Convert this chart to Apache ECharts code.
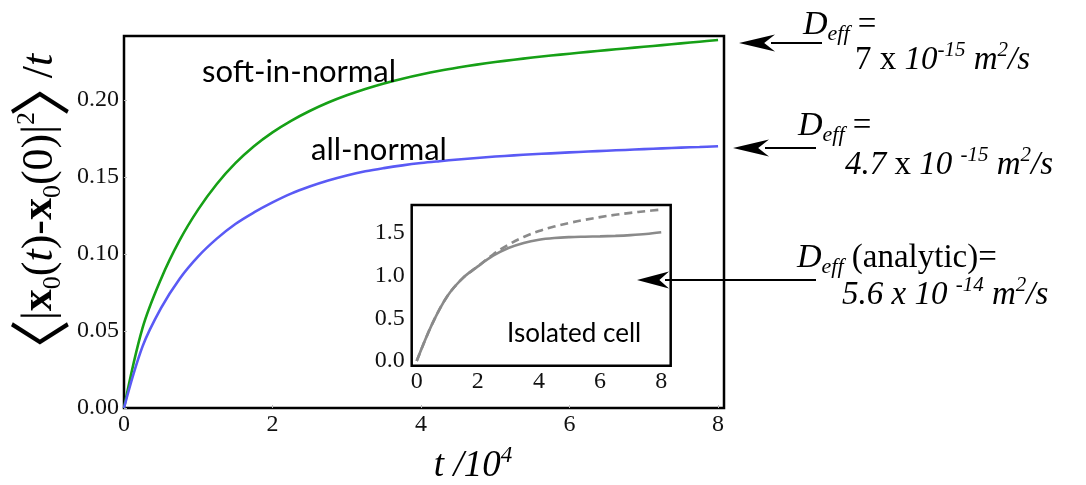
<!DOCTYPE html>
<html><head><meta charset="utf-8">
<script src="https://cdn.jsdelivr.net/npm/echarts@6/dist/echarts.min.js"></script>
<style>html,body{margin:0;padding:0;background:#fff}#c{width:1086px;height:485px}</style>
</head><body><div id="c"></div>
<script>
// ---- data ----
const tMain = [0, 0.25, 0.5, 0.75, 1, 1.25, 1.5, 1.75, 2, 2.25, 2.5, 2.75, 3, 3.25, 3.5, 3.75, 4, 4.25, 4.5, 4.75, 5, 5.25, 5.5, 5.75, 6, 6.25, 6.5, 6.75, 7, 7.25, 7.5, 7.75, 8];
const softInNormal = [0, 0.052, 0.084, 0.109, 0.129, 0.1455, 0.159, 0.170, 0.179, 0.1865, 0.1929, 0.1984, 0.2031, 0.2072, 0.2108, 0.2139, 0.2166, 0.2190, 0.2211, 0.2230, 0.2247, 0.2262, 0.2276, 0.2289, 0.2301, 0.2313, 0.2324, 0.2335, 0.2346, 0.2357, 0.2368, 0.2379, 0.2390];
const allNormal = [0, 0.040, 0.065, 0.084, 0.0985, 0.110, 0.1195, 0.127, 0.1335, 0.1392, 0.1438, 0.1477, 0.1510, 0.1537, 0.1558, 0.1576, 0.1591, 0.1603, 0.1614, 0.1624, 0.1633, 0.1641, 0.1648, 0.1654, 0.1660, 0.1666, 0.1671, 0.1676, 0.1681, 0.1686, 0.1691, 0.1695, 0.1700];
const xTicksMain = [0, 2, 4, 6, 8];
const yTicksMain = ['0.00', '0.05', '0.10', '0.15', '0.20'];
const tInset = [0, 0.5, 1, 1.5, 2, 2.5, 3, 3.5, 4, 4.5, 5, 5.5, 6, 6.5, 7, 7.5, 8];
const isolatedSolid = [0, 0.43, 0.76, 0.97, 1.11, 1.235, 1.325, 1.385, 1.423, 1.443, 1.453, 1.458, 1.462, 1.468, 1.477, 1.490, 1.51];
const isolatedDashed = [0, 0.43, 0.76, 0.97, 1.11, 1.25, 1.365, 1.455, 1.525, 1.578, 1.620, 1.656, 1.688, 1.715, 1.738, 1.758, 1.776];
const xTicksInset = [0, 2, 4, 6, 8];
const yTicksInset = ['0.0', '0.5', '1.0', '1.5'];
const seriesNames = ['soft-in-normal', 'all-normal', 'Isolated cell'];

const pairs = (xs, ys) => xs.map((x, i) => [x, ys[i]]);
const SERIF = '"Liberation Serif", "DejaVu Serif", serif';
const SANS = 'Lato, "Open Sans", sans-serif';
const CJK = '"Noto Sans CJK JP", "DejaVu Sans", sans-serif';

const chart = echarts.init(document.getElementById('c'), null, {renderer: 'canvas'});

function arrow(x1, x2, y, headLen, headHalf) {
  return [
    {type: 'line', shape: {x1: x1 + headLen - 4, y1: y, x2: x2, y2: y}, style: {stroke: '#000', lineWidth: 2}, z: 100},
    {type: 'polygon', shape: {points: [[x1, y], [x1 + headLen, y - headHalf], [x1 + headLen * 0.7, y], [x1 + headLen, y + headHalf]]}, style: {fill: '#000'}, z: 100}
  ];
}

const richD = {
  D: {fontFamily: SERIF, fontStyle: 'italic', fontSize: 34, lineHeight: 40, verticalAlign: 'middle', fill: '#000'},
  eff: {fontFamily: SERIF, fontStyle: 'italic', fontSize: 22, lineHeight: 18, verticalAlign: 'bottom', fill: '#000'},
  r: {fontFamily: SERIF, fontSize: 33, lineHeight: 40, verticalAlign: 'middle', fill: '#000'},
  i: {fontFamily: SERIF, fontStyle: 'italic', fontSize: 33, lineHeight: 40, verticalAlign: 'middle', fill: '#000'},
  sup: {fontFamily: SERIF, fontStyle: 'italic', fontSize: 21, lineHeight: 20, verticalAlign: 'top', fill: '#000'}
};

function rtext(x, y, text, rich, align, rotation) {
  return {type: 'text', x: x, y: y, rotation: rotation || 0, z: 100,
    style: {text: text, rich: rich, align: align || 'left', verticalAlign: 'middle', textAlign: align || 'left', textVerticalAlign: 'middle'}};
}
function ptext(x, y, text, font, rotation) {
  return {type: 'text', x: x, y: y, rotation: rotation || 0, z: 100,
    style: {text: text, font: font, fill: '#000', align: 'center', verticalAlign: 'middle', textAlign: 'center', textVerticalAlign: 'middle'}};
}
function label(x, y, text, size) {
  return {type: 'text', x: x, y: y, z: 100, style: {text: text, font: size + 'px ' + SANS, fill: '#000', align: 'left', verticalAlign: 'middle', textAlign: 'left', textVerticalAlign: 'middle'}};
}

const tickFont = {fontFamily: SERIF, fontSize: 24, color: '#111'};
const R90 = Math.PI / 2;

const option = {
  animation: false,
  backgroundColor: '#fff',
  grid: [
    {left: 124, top: 36, width: 600, height: 372, show: true, borderColor: '#000', borderWidth: 2.5, backgroundColor: 'transparent', outerBoundsMode: 'none', containLabel: false},
    {left: 416.7, top: 205, width: 254, height: 156, show: false, outerBoundsMode: 'none', containLabel: false}
  ],
  xAxis: [
    {gridIndex: 0, type: 'value', min: 0, max: 8.08, interval: 2,
      axisLine: {show: false}, splitLine: {show: false},
      axisTick: {show: true, inside: true, length: 3, lineStyle: {color: '#bbb'}},
      axisLabel: Object.assign({showMaxLabel: false, margin: 5,
        formatter: v => xTicksMain.includes(v) ? String(v) : ''}, tickFont)},
    {gridIndex: 1, type: 'value', min: 0, max: 8.31, interval: 2,
      axisLine: {show: false}, splitLine: {show: false}, axisTick: {show: false},
      axisLabel: Object.assign({showMaxLabel: false, margin: 9,
        formatter: v => xTicksInset.includes(v) ? String(v) : ''}, tickFont)}
  ],
  yAxis: [
    {gridIndex: 0, type: 'value', min: 0, max: 0.2416, interval: 0.05,
      axisLine: {show: false}, splitLine: {show: false},
      axisTick: {show: true, inside: true, length: 3, lineStyle: {color: '#bbb'}},
      axisLabel: Object.assign({showMaxLabel: false, margin: 5,
        formatter: (v, i) => yTicksMain[i] !== undefined ? yTicksMain[i] : ''}, tickFont)},
    {gridIndex: 1, type: 'value', min: 0, max: 1.83, interval: 0.5,
      axisLine: {show: false}, splitLine: {show: false}, axisTick: {show: false},
      axisLabel: Object.assign({showMaxLabel: false, margin: 12,
        formatter: (v, i) => yTicksInset[i] !== undefined ? yTicksInset[i] : ''}, tickFont)}
  ],
  series: [
    {name: seriesNames[0], type: 'line', xAxisIndex: 0, yAxisIndex: 0, data: pairs(tMain, softInNormal),
      smooth: 0.35, showSymbol: false, lineStyle: {color: '#16a016', width: 2.6}, z: 5},
    {name: seriesNames[1], type: 'line', xAxisIndex: 0, yAxisIndex: 0, data: pairs(tMain, allNormal),
      smooth: 0.35, showSymbol: false, lineStyle: {color: '#5a5af5', width: 2.6}, z: 5},
    {name: seriesNames[2] + ' (dashed)', type: 'line', xAxisIndex: 1, yAxisIndex: 1, data: pairs(tInset, isolatedDashed),
      smooth: 0.35, showSymbol: false, lineStyle: {color: '#8a8a8a', width: 2.6, type: [8, 5]}, z: 5},
    {name: seriesNames[2], type: 'line', xAxisIndex: 1, yAxisIndex: 1, data: pairs(tInset, isolatedSolid),
      smooth: 0.35, showSymbol: false, lineStyle: {color: '#8a8a8a', width: 2.6}, z: 6}
  ],
  graphic: [
    {type: 'rect', shape: {x: 411.7, y: 205, width: 259, height: 160.7}, style: {fill: 'none', stroke: '#000', lineWidth: 2.5}, z: 90},
    label(202, 72, seriesNames[0], 31),
    label(311, 150, seriesNames[1], 31),
    label(507, 334, seriesNames[2], 26),
    // y-axis title, built from pieces
    ptext(40, 350, '〈', '62px ' + CJK, R90),
    rtext(40, 216, '{n||}{b|x}{sub|0}{n|(}{i|t}{n|)-}{b|x}{sub|0}{n|(0)|}{sup|2}', {
      n: {fontFamily: SERIF, fontSize: 44, lineHeight: 52, verticalAlign: 'middle', fill: '#000'},
      b: {fontFamily: SERIF, fontSize: 44, fontWeight: 'bold', lineHeight: 52, verticalAlign: 'middle', fill: '#000'},
      i: {fontFamily: SERIF, fontSize: 44, fontStyle: 'italic', lineHeight: 52, verticalAlign: 'middle', fill: '#000'},
      sub: {fontFamily: SERIF, fontSize: 26, lineHeight: 26, verticalAlign: 'bottom', fill: '#000'},
      sup: {fontFamily: SERIF, fontSize: 26, lineHeight: 28, verticalAlign: 'top', fill: '#000'}
    }, 'center', R90),
    ptext(40, 86, '〉', '62px ' + CJK, R90),
    rtext(40, 66, '{n|/}{i|t}', {
      n: {fontFamily: SERIF, fontSize: 44, lineHeight: 52, verticalAlign: 'middle', fill: '#000'},
      i: {fontFamily: SERIF, fontSize: 44, fontStyle: 'italic', lineHeight: 52, verticalAlign: 'middle', fill: '#000'}
    }, 'center', R90),
    rtext(473, 466, '{i|t /10}{sup|4}', {
      i: {fontFamily: SERIF, fontStyle: 'italic', fontSize: 37, lineHeight: 44, verticalAlign: 'middle', fill: '#000'},
      sup: {fontFamily: SERIF, fontStyle: 'italic', fontSize: 23, lineHeight: 22, verticalAlign: 'top', fill: '#000'}
    }, 'center'),
    ...arrow(739, 822, 43, 36, 8.5),
    rtext(803, 25, '{D|D}{eff|eff}{r| =}', richD),
    rtext(855, 60, '{r|7 x }{i|10}{sup|-15}{i| m}{sup|2}{i|/s}', richD),
    ...arrow(733, 816, 148, 36, 8.5),
    rtext(798, 126, '{D|D}{eff|eff}{r| =}', richD),
    rtext(845, 165, '{i|4.7}{r| x }{i|10 }{sup|-15}{i| m}{sup|2}{i|/s}', richD),
    ...arrow(637, 816, 280, 32, 8.5),
    rtext(797, 258, '{D|D}{eff|eff}{r| (analytic)=}', richD),
    rtext(842, 295, '{i|5.6 x 10 }{sup|-14}{i| m}{sup|2}{i|/s}', richD)
  ]
};
chart.setOption(option);
</script>
</body></html>
